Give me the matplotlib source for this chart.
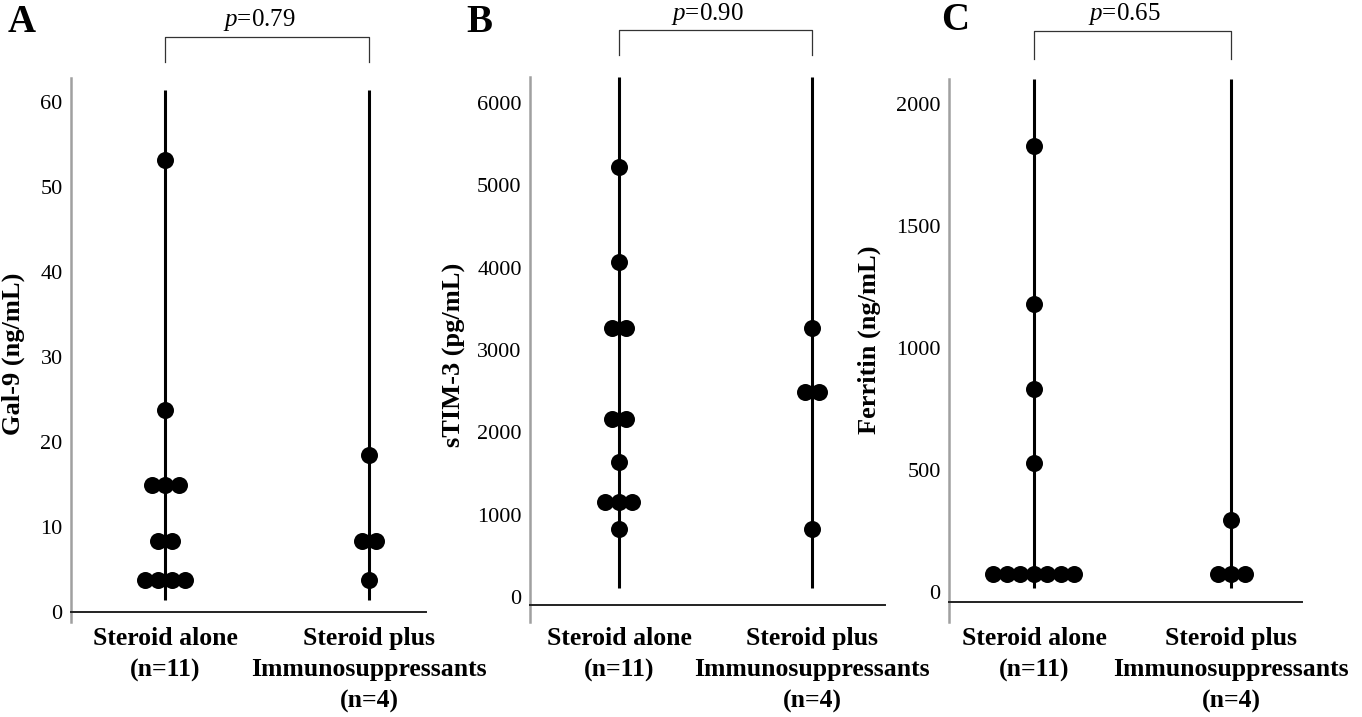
import matplotlib
matplotlib.use("Agg")
import matplotlib.pyplot as plt
from collections import Counter

plt.rcParams["font.family"] = "Liberation Serif"
plt.rcParams["mathtext.fontset"] = "custom"
plt.rcParams["mathtext.rm"] = "Liberation Serif"
plt.rcParams["mathtext.it"] = "Liberation Serif:italic"

groups = ["Steroid alone\n(n=11)", "Steroid plus\nImmunosuppressants\n(n=4)"]

# values
gal9_steroid = [53.2, 23.8, 14.9, 14.9, 14.9, 8.4, 8.4, 3.8, 3.8, 3.8, 3.8]
gal9_combo = [18.5, 8.4, 8.4, 3.8]
stim3_steroid = [5225, 4070, 3270, 3270, 2160, 2160, 1645, 1155, 1155, 1155, 826]
stim3_combo = [3270, 2490, 2490, 826]
ferritin_steroid = [1828, 1180, 832, 529, 74, 74, 74, 74, 74, 74, 74]
ferritin_combo = [295, 74, 74, 74]

p_values = ["0.79", "0.90", "0.65"]
panel_letters = ["A", "B", "C"]
ylabels = ["Gal-9 (ng/mL)", "sTIM-3 (pg/mL)", "Ferritin (ng/mL)"]
yticks = [range(0, 61, 10), range(0, 6001, 1000), range(0, 2001, 500)]

W, H = 1362, 717

# layout per panel (pixels): left, right, top, bottom of axes box
boxes = [(71, 426, 78, 622), (530, 885, 77, 622), (949, 1302, 79, 622)]
ylims = [(-1.18, 62.8), (-304, 6318), (-123, 2102)]
xlims = [(-0.461, 1.279), (-0.461, 1.378), (-0.431, 1.360)]
stems = [(1.4, 61.4), (110, 6318), (16, 2102)]
xaxis_at = [0, -97, -41]
xlabel_pad = [11, 16, 18]
ylabel_xy = [(-0.163, 0.493), (-0.214, 0.49), (-0.227, 0.52)]
bracket_y = [(1.03, 1.075), (1.04, 1.086), (1.037, 1.088)]
ptext_y = [1.106, 1.115, 1.119]
letter_xy = [(22, 22), (479, 22), (955, 20)]


def swarm_x(values, center, step):
    """spread tied values side by side around the group centre"""
    counts = Counter(values)
    seen = Counter()
    xs = []
    for v in values:
        n = counts[v]
        xs.append(center + (seen[v] - (n - 1) / 2) * step)
        seen[v] += 1
    return xs


def draw_panel(fig, i, data):
    left, right, top, bottom = boxes[i]
    ax = fig.add_axes([left / W, 1 - bottom / H, (right - left) / W,
                       (bottom - top) / H])
    ax.set_xlim(*xlims[i])
    ax.set_ylim(*ylims[i])

    # one data unit in x, in pixels, so dots sit ~13.5 px apart
    unit_px = (right - left) / (xlims[i][1] - xlims[i][0])
    step = 13.5 / unit_px

    for g, vals in enumerate(data):
        ax.plot([g, g], stems[i], color="black", lw=2.2, zorder=2,
                solid_capstyle="butt")
        ax.scatter(swarm_x(vals, g, step), vals, s=150, color="black",
                   zorder=3, linewidths=0)

    ax.spines["top"].set_visible(False)
    ax.spines["right"].set_visible(False)
    ax.spines["left"].set_color("#a0a0a0")
    ax.spines["left"].set_linewidth(1.8)
    ax.spines["bottom"].set_position(("data", xaxis_at[i]))
    ax.spines["bottom"].set_color("#222222")
    ax.spines["bottom"].set_linewidth(1.4)

    ax.set_yticks(list(yticks[i]))
    ax.tick_params(axis="y", length=0, pad=6, labelsize=16)
    ax.set_xticks([0, 1])
    ax.set_xticklabels(groups, fontweight="bold", fontsize=18.5,
                       linespacing=1.45)
    ax.tick_params(axis="x", length=0, pad=xlabel_pad[i])

    ax.set_ylabel(ylabels[i], fontweight="bold", fontsize=19, va="center")
    ax.yaxis.set_label_coords(*ylabel_xy[i])

    # significance bracket
    tr = ax.get_xaxis_transform()
    lo, hi = bracket_y[i]
    ax.plot([0, 0, 1, 1], [lo, hi, hi, lo], color="#333333", lw=0.9,
            transform=tr, clip_on=False)
    ax.text(0.46, ptext_y[i], "$p$=" + p_values[i], transform=tr,
            ha="center", va="center", fontsize=18)

    fig.text(letter_xy[i][0] / W, 1 - letter_xy[i][1] / H, panel_letters[i],
             fontsize=28, fontweight="bold", ha="center", va="center")
    return ax


def main():
    fig = plt.figure(figsize=(W / 100, H / 100), dpi=100)
    draw_panel(fig, 0, [gal9_steroid, gal9_combo])
    draw_panel(fig, 1, [stim3_steroid, stim3_combo])
    draw_panel(fig, 2, [ferritin_steroid, ferritin_combo])
    fig.savefig("out.png", dpi=100, facecolor="white")


if __name__ == "__main__":
    main()
